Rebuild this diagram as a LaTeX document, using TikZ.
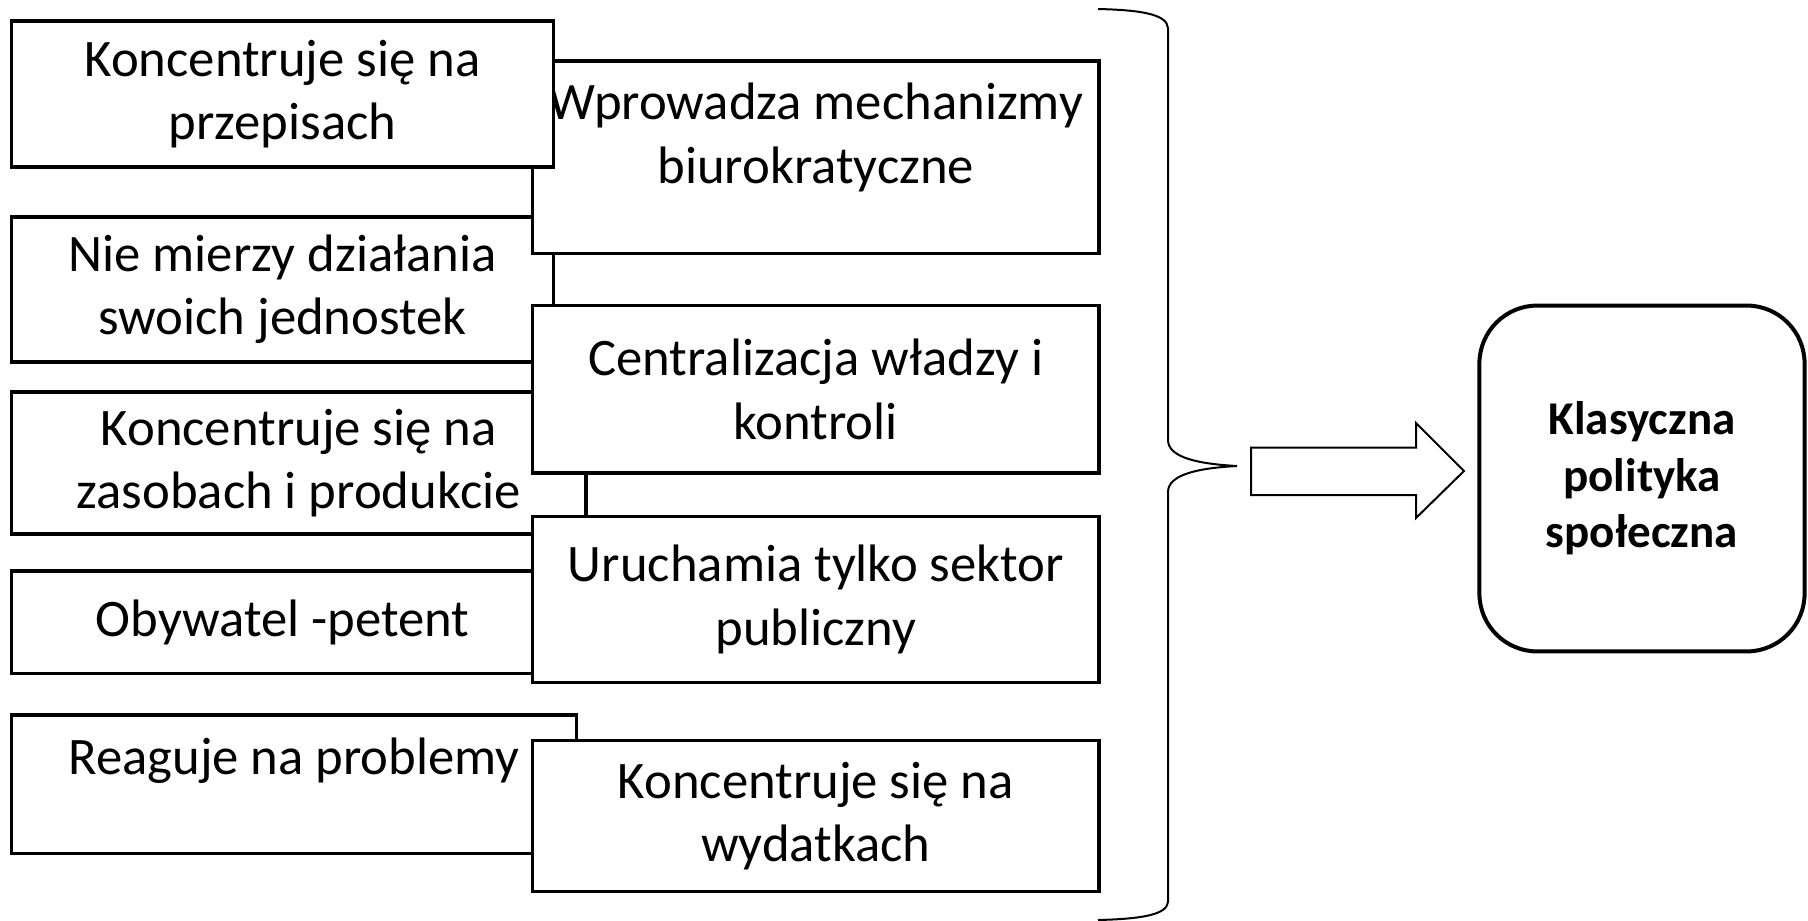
\documentclass[tikz,border=0pt]{standalone}
\usepackage{fontspec}
\setmainfont{Carlito}
\usepackage{tikz}

\tikzset{
  itembox/.style={draw, line width=3.5pt, fill=white, rectangle, inner sep=0pt,
    align=center, font=\fontsize{52.7}{63.4}\selectfont},
  itemtext/.style={inner sep=0pt, align=center, font=\fontsize{52.7}{63.4}\selectfont},
}

\begin{document}
\begin{tikzpicture}[x=1pt,y=1pt,yscale=-1,xscale=1]
\useasboundingbox (0,0) rectangle (1808,921);

% Left and right boxes, in stacking order
%Shape: Rectangle [L2]
\node[itembox, minimum width=542, minimum height=145.3] (nie) at (282.5,289.5) {Nie mierzy działania\\swoich jednostek};
%Shape: Rectangle [R1]
\node[itembox, minimum width=566.2, minimum height=192.6] (wpr) at (815.8,157.4) {};
\node[itemtext] (wprt) at ([yshift=-20pt]wpr.center) {Wprowadza mechanizmy\\biurokratyczne};
%Shape: Rectangle [L1]
\node[itembox, minimum width=542, minimum height=146.4] (prz) at (282.5,94) {Koncentruje się na\\przepisach};
%Shape: Rectangle [L3]
\node[itembox, minimum width=574.3, minimum height=141.9] (zas) at (298.7,463) {Koncentruje się na\\zasobach i produkcie};
%Shape: Rectangle [R2]
\node[itembox, minimum width=566.2, minimum height=167.2] (cen) at (815.8,389.2) {Centralizacja władzy i\\kontroli};
%Shape: Rectangle [L4]
\node[itembox, minimum width=542, minimum height=102.6] (oby) at (282.5,622.1) {Obywatel -petent};
%Shape: Rectangle [R3]
\node[itembox, minimum width=566.2, minimum height=166] (uru) at (815.8,599.6) {Uruchamia tylko sektor\\publiczny};
%Shape: Rectangle [L5]
\node[itembox, minimum width=565.1, minimum height=138.3] (rea) at (294,784.2) {};
\node[itemtext] (reat) at ([yshift=-23pt]rea.center) {Reaguje na problemy};
%Shape: Rectangle [R4]
\node[itembox, minimum width=566.2, minimum height=151.1] (wyd) at (815.8,815.9) {Koncentruje się na\\wydatkach};

%Shape: Right Brace
\draw[line width=2pt] (1098,9) .. controls (1140,10) and (1167,14) .. (1168,28) -- (1168,440)
  .. controls (1168,458) and (1200,464) .. (1237,466)
  .. controls (1200,468) and (1168,474) .. (1168,492) -- (1168,902)
  .. controls (1167,915) and (1140,919) .. (1098,920);

%Shape: Right Arrow
\draw[line width=2pt, fill=white] (1251,447.7) -- (1416,447.7) -- (1416,423) -- (1464,471)
  -- (1416,518) -- (1416,495) -- (1251,495) -- cycle;

%Rounded Rect
\node[draw, line width=4pt, rounded corners=58pt, inner sep=0pt, align=center,
  minimum width=325.2, minimum height=345.9,
  font=\fontsize{47}{56.5}\selectfont\bfseries] (klas) at (1642,478.5) {Klasyczna\\polityka\\społeczna};
\end{tikzpicture}
\end{document}
